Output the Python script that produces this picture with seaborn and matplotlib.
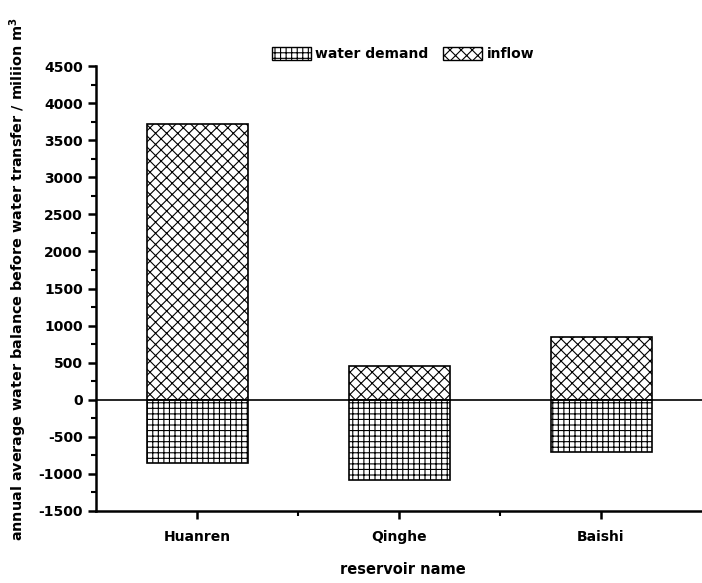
import matplotlib
matplotlib.use("Agg")
import matplotlib.pyplot as plt
import matplotlib.patches as mpatches
from matplotlib.ticker import MultipleLocator, FixedLocator
import seaborn as sns
import pandas as pd

# annual average water balance before transfer (million m^3)
reservoirs = ["Huanren", "Qinghe", "Baishi"]
inflow = [3720, 450, 850]
water_demand = [-850, -1080, -710]

sns.set_theme(style="ticks")
plt.rcParams["font.family"] = ["DejaVu Sans"]
plt.rcParams["font.weight"] = "bold"
plt.rcParams["axes.unicode_minus"] = False
plt.rcParams["hatch.linewidth"] = 0.8
plt.rcParams["text.color"] = "black"
plt.rcParams["axes.labelcolor"] = "black"

df = pd.DataFrame({"reservoir": reservoirs, "inflow": inflow, "water demand": water_demand})

fig = plt.figure(figsize=(7.02, 5.83), dpi=100)
ax = fig.add_axes([96 / 702, 72 / 583, (702 - 96) / 702, (511 - 66) / 583])

sns.barplot(data=df, x="reservoir", y="inflow", ax=ax, color="white",
            edgecolor="black", linewidth=1.2, hatch="xxx", width=0.5)
sns.barplot(data=df, x="reservoir", y="water demand", ax=ax, color="white",
            edgecolor="black", linewidth=1.2, hatch="+++", width=0.5)

ax.axhline(0, color="black", lw=1.2, zorder=3)

ax.set_ylim(-1500, 4500)
ax.set_xlim(-0.5, 2.5)
ax.yaxis.set_major_locator(MultipleLocator(500))
ax.yaxis.set_minor_locator(MultipleLocator(250))
ax.xaxis.set_minor_locator(FixedLocator([0.5, 1.5]))

for side in ("top", "right"):
    ax.spines[side].set_visible(False)
for side in ("left", "bottom"):
    ax.spines[side].set_linewidth(1.8)
    ax.spines[side].set_color("black")

ax.tick_params(axis="both", which="major", direction="out", length=6, width=1.8,
               color="black", labelsize=10, labelcolor="black")
ax.tick_params(axis="both", which="minor", direction="out", length=3.5, width=1.5,
               color="black")
ax.tick_params(axis="x", which="major", pad=8)
for lab in ax.get_xticklabels() + ax.get_yticklabels():
    lab.set_fontweight("bold")

ax.set_xlabel("reservoir name", fontsize=10.5, fontweight="bold", color="black")
ax.xaxis.set_label_coords(403 / 702, 1 - 562 / 583, transform=fig.transFigure)
ax.set_ylabel("annual average water balance before water transfer / miliion m$^\\mathbf{3}$",
              fontsize=10.4, fontweight="bold", color="black")
ax.yaxis.label.set_verticalalignment("center")
ax.yaxis.set_label_coords(18 / 702, 1 - 279 / 583, transform=fig.transFigure)

handles = [
    mpatches.Patch(facecolor="white", edgecolor="black", hatch="+++", label="water demand"),
    mpatches.Patch(facecolor="white", edgecolor="black", hatch="xxx", label="inflow"),
]
leg = fig.legend(handles=handles, loc="center", bbox_to_anchor=(403 / 702, 1 - 54 / 583),
                 ncol=2, frameon=False, handlelength=2.8, handleheight=1.1,
                 columnspacing=1.1, handletextpad=0.3, prop={"weight": "bold", "size": 10})
for t in leg.get_texts():
    t.set_color("black")

fig.savefig("out.png", dpi=100)
